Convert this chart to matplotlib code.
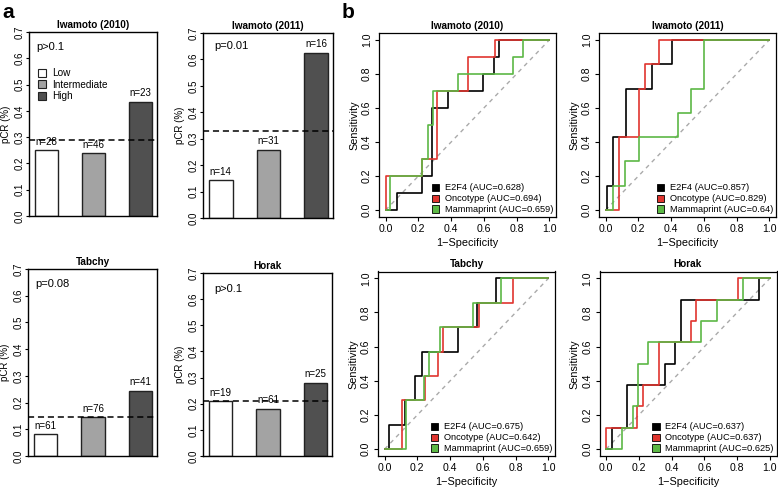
import matplotlib
matplotlib.use("Agg")
import matplotlib.pyplot as plt
from matplotlib.patches import Patch

plt.rcParams['font.family'] = ['Liberation Sans', 'DejaVu Sans']

W, H = 778, 490

# panel a: pCR rate per E2F4 group
a_titles = ['Iwamoto (2010)', 'Iwamoto (2011)', 'Tabchy', 'Horak']
groups = ['Low', 'Intermediate', 'High']
pcr = [[0.25, 0.239, 0.435],
       [0.143, 0.258, 0.625],
       [0.082, 0.145, 0.244],
       [0.21, 0.18, 0.28]]
n_labels = [['n=28', 'n=46', 'n=23'],
            ['n=14', 'n=31', 'n=16'],
            ['n=61', 'n=76', 'n=41'],
            ['n=19', 'n=61', 'n=25']]
overall = [0.289, 0.328, 0.146, 0.21]
p_text = ['p>0.1', 'p=0.01', 'p=0.08', 'p>0.1']

# panel b: ROC step corners (1-specificity, sensitivity)
b_titles = ['Iwamoto (2010)', 'Iwamoto (2011)', 'Tabchy', 'Horak']
models = ['E2F4', 'Oncotype', 'Mammaprint']
roc_fpr = [
    [[0, 0.067, 0.22, 0.281, 0.379, 0.593, 0.66, 0.69, 1.0],
     [0, 0, 0.22, 0.316, 0.5, 0.668, 1.0],
     [0, 0.026, 0.22, 0.257, 0.287, 0.44, 0.78, 0.84, 1.0]],
    [[0, 0.006, 0.043, 0.125, 0.283, 0.406, 1.0],
     [0, 0.082, 0.205, 0.242, 0.324, 1.0],
     [0, 0.043, 0.119, 0.205, 0.44, 0.523, 0.6, 1.0]],
    [[0, 0.03, 0.126, 0.187, 0.228, 0.451, 0.567, 0.681, 1.0],
     [0, 0.106, 0.248, 0.325, 0.356, 0.579, 0.783, 1.0],
     [0, 0.13, 0.242, 0.274, 0.34, 0.539, 0.71, 1.0]],
    [[0, 0.035, 0.13, 0.36, 0.421, 0.455, 0.935, 1.0],
     [0, 0, 0.19, 0.228, 0.323, 0.516, 0.549, 0.807, 1.0],
     [0, 0.1, 0.167, 0.197, 0.258, 0.579, 0.679, 0.837, 1.0]],
]
roc_tpr = [
    [[0, 0.1, 0.2, 0.6, 0.7, 0.8, 0.9, 1.0, 1.0],
     [0, 0.2, 0.3, 0.7, 0.9, 1.0, 1.0],
     [0, 0.2, 0.3, 0.5, 0.7, 0.8, 0.9, 1.0, 1.0]],
    [[0, 0.143, 0.429, 0.714, 0.857, 1.0, 1.0],
     [0, 0.429, 0.714, 0.857, 1.0, 1.0],
     [0, 0.143, 0.286, 0.429, 0.571, 0.714, 1.0, 1.0]],
    [[0, 0.143, 0.286, 0.429, 0.571, 0.714, 0.857, 1.0, 1.0],
     [0, 0.286, 0.429, 0.571, 0.714, 0.857, 1.0, 1.0],
     [0, 0.286, 0.429, 0.571, 0.714, 0.857, 1.0, 1.0]],
    [[0, 0.125, 0.375, 0.5, 0.625, 0.875, 1.0, 1.0],
     [0, 0.125, 0.25, 0.375, 0.625, 0.75, 0.875, 1.0, 1.0],
     [0, 0.125, 0.25, 0.5, 0.625, 0.75, 0.875, 1.0, 1.0]],
]
auc = [['0.628', '0.694', '0.659'],
       ['0.857', '0.829', '0.64'],
       ['0.675', '0.642', '0.659'],
       ['0.637', '0.637', '0.625']]

bar_colors = ['white', '#a3a3a3', '#505050']
roc_colors = ['black', '#e0352f', '#5cb845']


def add_ax(x0, y0, x1, y1):
    # pixel box -> figure fraction
    return fig.add_axes([x0 / W, 1 - y1 / H, (x1 - x0) / W, (y1 - y0) / H])


fig = plt.figure(figsize=(W / 100, H / 100), dpi=100)

a_boxes = [(29, 32, 157, 216), (203, 33, 333, 218),
           (28, 269, 157, 456), (203, 273, 332, 456)]
p_pos = [(0.06, 0.92), (0.09, 0.93), (0.06, 0.92), (0.09, 0.91)]

for i, box in enumerate(a_boxes):
    ax = add_ax(*box)
    xs = range(len(groups))
    ax.bar(xs, pcr[i], width=0.5, color=bar_colors,
           edgecolor='#222222', linewidth=1.0)
    for x, v, t in zip(xs, pcr[i], n_labels[i]):
        ax.annotate(t, (x, v), xytext=(0, 2.5), textcoords='offset points',
                    ha='center', va='bottom', fontsize=7)
    ax.axhline(overall[i], color='black', ls=(0, (4, 2.5)), lw=1.1)
    ax.set_xlim(-0.37, 2.35)
    ax.set_ylim(0, 0.7)
    ax.set_xticks([])
    ax.set_yticks([0, 0.1, 0.2, 0.3, 0.4, 0.5, 0.6, 0.7])
    ax.set_yticklabels(['0.0', '0.1', '0.2', '0.3', '0.4', '0.5', '0.6', '0.7'],
                       rotation=90, va='center', fontsize=7)
    ax.tick_params(axis='y', length=2.5, pad=0.8, width=0.8)
    ax.set_ylabel('pCR (%)', fontsize=7)
    ax.yaxis.set_label_coords(-0.14, 0.5)
    ax.set_title(a_titles[i], fontsize=7.2, fontweight='bold', pad=3)
    ax.text(p_pos[i][0], p_pos[i][1], p_text[i], transform=ax.transAxes,
            fontsize=8, va='center', ha='left')
    for s in ax.spines.values():
        s.set_linewidth(1.0)
    if i == 0:
        ax.legend(handles=[Patch(facecolor=c, edgecolor='#222222', lw=0.8, label=g)
                           for c, g in zip(bar_colors, groups)],
                  loc='upper left', bbox_to_anchor=(0.03, 0.83), frameon=False,
                  fontsize=7.2, handlelength=0.8, handleheight=0.8,
                  handletextpad=0.6, labelspacing=0.15, borderpad=0)

b_boxes = [(379, 33, 556, 217), (599, 33, 776, 217),
           (378, 271.5, 555, 456), (599.5, 271.5, 776.5, 456)]
ticks = [0, 0.2, 0.4, 0.6, 0.8, 1.0]
tick_lbl = ['0.0', '0.2', '0.4', '0.6', '0.8', '1.0']

for i, box in enumerate(b_boxes):
    ax = add_ax(*box)
    ax.plot([0, 1], [0, 1], color='#aaaaaa', ls=(0, (3, 3)), lw=1.0)
    for j in range(len(models)):
        ax.step(roc_fpr[i][j], roc_tpr[i][j], where='post',
                color=roc_colors[j], lw=1.2)
    ax.set_xlim(-0.04, 1.04)
    ax.set_ylim(-0.04, 1.04)
    ax.set_xticks(ticks)
    ax.set_xticklabels(tick_lbl, fontsize=7.6)
    ax.set_yticks(ticks)
    ax.set_yticklabels(tick_lbl, fontsize=7.6, rotation=90, va='center')
    ax.tick_params(length=3, pad=2, width=0.8)
    ax.set_xlabel('1\u2212Specificity', fontsize=7.8, labelpad=3)
    ax.set_ylabel('Sensitivity', fontsize=7.8, labelpad=2)
    ax.set_title(b_titles[i], fontsize=7.2, fontweight='bold', pad=3)
    for s in ax.spines.values():
        s.set_linewidth(0.9)
    ax.legend(handles=[Patch(facecolor=c, edgecolor='black', lw=0.6,
                             label='%s (AUC=%s)' % (m, a))
                       for c, m, a in zip(roc_colors, models, auc[i])],
              loc='lower right', frameon=False, fontsize=6.7,
              handlelength=0.8, handleheight=0.8, handletextpad=0.6,
              labelspacing=0.2, borderpad=0.2, borderaxespad=0.1)

fig.text(2 / W, 1 - 3 / H, 'a', fontsize=15, fontweight='bold', va='top')
fig.text(342 / W, 1 - 3 / H, 'b', fontsize=15, fontweight='bold', va='top')

fig.savefig('out.png', dpi=100)
